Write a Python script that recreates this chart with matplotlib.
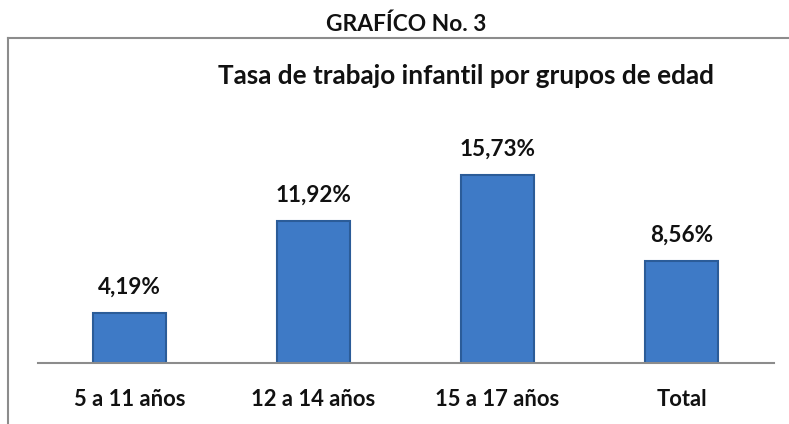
import matplotlib
matplotlib.use("Agg")
import matplotlib.pyplot as plt
from matplotlib.lines import Line2D

# ==== Data ====
categories = ["5 a 11 años", "12 a 14 años", "15 a 17 años", "Total"]
values = [4.19, 11.92, 15.73, 8.56]
labels = ["4,19%", "11,92%", "15,73%", "8,56%"]

W, H = 789, 424
FONT = ["Lato", "DejaVu Sans"]

fig = plt.figure(figsize=(W / 100, H / 100), dpi=100)
fig.patch.set_facecolor("white")

# axes placed in pixel coords: x 37.5..773.5, y baseline 363, top 148
left, right, bottom, top = 37.5, 773.5, 363, 148
ax = fig.add_axes([left / W, 1 - bottom / H, (right - left) / W, (bottom - top) / H])

x = range(len(categories))
ax.bar(x, values, width=0.4, color="#3E7AC6", edgecolor="#2B5C98", linewidth=1.5, zorder=2)
for xi, v, lab in zip(x, values, labels):
    ax.annotate(lab, xy=(xi, v), xytext=(0, 19), textcoords="offset pixels",
                ha="center", va="baseline", fontsize=16.2,
                fontweight="bold", family=FONT, color="#111111")

ax.set_xlim(-0.5, 3.5)
ax.set_ylim(0, 18)
ax.set_yticks([])
ax.set_xticks(list(x))
ax.set_xticklabels(categories, fontsize=15.8, fontweight="bold", family=FONT, color="#111111")
for t in ax.get_xticklabels():
    t.set_va("baseline")
ax.tick_params(axis="x", length=0, pad=43 * 0.72)
for s in ["top", "right", "left"]:
    ax.spines[s].set_visible(False)
ax.spines["bottom"].set_color("#8c8c8c")
ax.spines["bottom"].set_linewidth(1.5)
ax.patch.set_alpha(0)

# outer frame (top and left edges)
fig.add_artist(Line2D([8 / W, 1], [1 - 38 / H, 1 - 38 / H], color="#8c8c8c", lw=1.5))
fig.add_artist(Line2D([8 / W, 8 / W], [1 - 38 / H, 0], color="#8c8c8c", lw=1.5))

fig.text(406.5 / W, 1 - 31 / H, "GRAFÍCO No. 3", ha="center", va="baseline",
         fontsize=16.4, fontweight="bold", family=FONT, color="#111111")
fig.text(466.5 / W, 1 - 84 / H, "Tasa de trabajo infantil por grupos de edad", ha="center",
         va="baseline", fontsize=18.8, fontweight="bold", family=FONT, color="#111111")

fig.savefig("out.png", dpi=100)
